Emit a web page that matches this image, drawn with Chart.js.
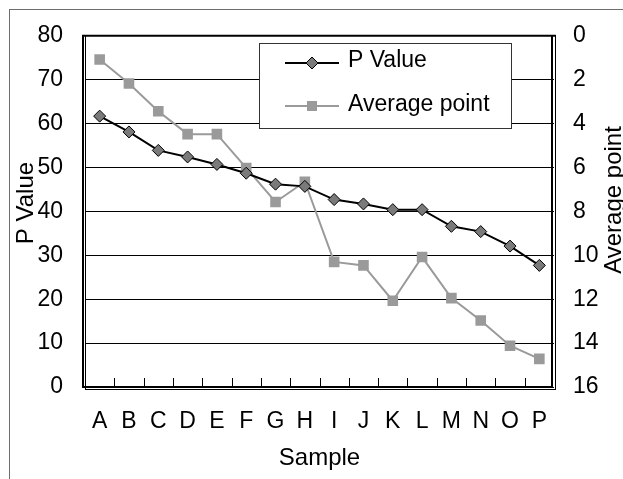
<!DOCTYPE html>
<html>
<head>
<meta charset="utf-8">
<script src="https://cdn.jsdelivr.net/npm/chart.js@4/dist/chart.umd.min.js"></script>
<style>
  html, body { margin: 0; padding: 0; background: #fff; }
  canvas { display: block; }
</style>
</head>
<body>
<canvas id="c" width="623" height="479"></canvas>
<script>
const categories = ['A','B','C','D','E','F','G','H','I','J','K','L','M','N','O','P'];
const pValue = [61.7, 58.1, 53.9, 52.4, 50.7, 48.7, 46.2, 45.7, 42.7, 41.7, 40.4, 40.4, 36.6, 35.4, 32.1, 27.7];
const averagePoint = [1.08, 2.17, 3.44, 4.48, 4.48, 6.02, 7.57, 6.65, 10.3, 10.46, 12.07, 10.08, 11.95, 12.97, 14.12, 14.72];
const seriesNames = ['P Value', 'Average point'];
const xTitle = 'Sample';
const leftTitle = 'P Value';
const rightTitle = 'Average point';

const FONT = "'Liberation Sans', Arial, sans-serif";
const DIAMOND_FILL = '#7a7a7a';
const SQUARE_FILL = '#9a9a9a';

function rotatedText(ctx, text, x, y) {
  ctx.save();
  ctx.fillStyle = '#000';
  ctx.font = '24px ' + FONT;
  ctx.textAlign = 'center';
  ctx.textBaseline = 'middle';
  ctx.translate(x, y);
  ctx.rotate(-Math.PI / 2);
  ctx.fillText(text, 0, 0);
  ctx.restore();
}

const decor = {
  id: 'decor',
  beforeDraw(chart) {
    const ctx = chart.ctx;
    ctx.save();
    ctx.fillStyle = '#fff';
    ctx.fillRect(0, 0, chart.width, chart.height);
    ctx.strokeStyle = '#6e6e6e';
    ctx.lineWidth = 1;
    ctx.strokeRect(9.5, 9.5, 800, 800);
    ctx.restore();
  },
  afterDatasetsDraw(chart) {
    const ctx = chart.ctx;
    const a = chart.chartArea;
    const xs = chart.scales.x;
    ctx.save();
    ctx.strokeStyle = '#000';
    ctx.lineWidth = 1;
    ctx.beginPath();
    for (let i = 1; i < categories.length; i++) {
      const x = Math.round((xs.getPixelForValue(i - 1) + xs.getPixelForValue(i)) / 2) + 0.5;
      ctx.moveTo(x, a.bottom - 9);
      ctx.lineTo(x, a.bottom);
    }
    ctx.stroke();
    ctx.lineWidth = 2;
    ctx.beginPath();
    ctx.moveTo(a.left - 3, a.top); ctx.lineTo(a.right + 1, a.top);
    ctx.moveTo(a.left - 2, a.top - 1); ctx.lineTo(a.left - 2, a.bottom + 1);
    ctx.moveTo(a.left - 3, a.bottom); ctx.lineTo(a.right - 1, a.bottom);
    ctx.moveTo(a.right - 2, a.top - 1); ctx.lineTo(a.right - 2, a.bottom + 1);
    ctx.stroke();
    ctx.lineWidth = 1;
    ctx.beginPath();
    ctx.moveTo(a.left + 0.5, a.top); ctx.lineTo(a.left + 0.5, a.bottom + 3);
    ctx.moveTo(a.left, a.bottom + 2.5); ctx.lineTo(a.right + 2, a.bottom + 2.5);
    ctx.moveTo(a.right + 1.5, a.top - 1); ctx.lineTo(a.right + 1.5, a.bottom + 3);
    ctx.stroke();
    ctx.restore();
  },
  afterDraw(chart) {
    const ctx = chart.ctx;
    rotatedText(ctx, leftTitle, 26, 203);
    rotatedText(ctx, rightTitle, 614, 200);

    ctx.save();
    const bx = 259.5, by = 43.5, bw = 252, bh = 85;
    ctx.fillStyle = '#fff';
    ctx.fillRect(bx, by, bw, bh);
    ctx.strokeStyle = '#333';
    ctx.lineWidth = 1;
    ctx.strokeRect(bx, by, bw, bh);
    const rows = [63, 106];
    ctx.strokeStyle = '#000';
    ctx.lineWidth = 2;
    ctx.beginPath(); ctx.moveTo(285, rows[0]); ctx.lineTo(339, rows[0]); ctx.stroke();
    ctx.fillStyle = DIAMOND_FILL;
    ctx.lineWidth = 1;
    ctx.beginPath();
    ctx.moveTo(312 - 6, rows[0]); ctx.lineTo(312, rows[0] - 6); ctx.lineTo(312 + 6, rows[0]); ctx.lineTo(312, rows[0] + 6); ctx.closePath();
    ctx.fill(); ctx.stroke();
    ctx.strokeStyle = SQUARE_FILL;
    ctx.lineWidth = 2;
    ctx.beginPath(); ctx.moveTo(285, rows[1]); ctx.lineTo(339, rows[1]); ctx.stroke();
    ctx.fillStyle = SQUARE_FILL;
    ctx.fillRect(307, rows[1] - 5, 10, 10);
    ctx.fillStyle = '#000';
    ctx.font = '23px ' + FONT;
    ctx.textAlign = 'left';
    ctx.textBaseline = 'middle';
    ctx.fillText(seriesNames[0], 348, rows[0] - 2);
    ctx.fillText(seriesNames[1], 348, rows[1] - 1);
    ctx.restore();
  }
};

new Chart(document.getElementById('c'), {
  type: 'line',
  data: {
    labels: categories,
    datasets: [
      {
        label: seriesNames[0],
        data: pValue,
        yAxisID: 'y',
        borderColor: '#000',
        borderWidth: 2,
        pointStyle: 'rectRot',
        pointRadius: 6,
        pointBackgroundColor: DIAMOND_FILL,
        pointBorderColor: '#000',
        pointBorderWidth: 1,
        tension: 0,
        order: 1
      },
      {
        label: seriesNames[1],
        data: averagePoint,
        yAxisID: 'y2',
        borderColor: SQUARE_FILL,
        borderWidth: 2,
        pointStyle: 'rect',
        pointRadius: 7.5,
        pointBackgroundColor: SQUARE_FILL,
        pointBorderColor: SQUARE_FILL,
        pointBorderWidth: 0,
        tension: 0,
        order: 2
      }
    ]
  },
  options: {
    responsive: false,
    devicePixelRatio: 1,
    animation: false,
    layout: { padding: { top: 30, left: 0, right: 0, bottom: 0 } },
    plugins: {
      legend: { display: false },
      tooltip: { enabled: false }
    },
    scales: {
      x: {
        type: 'category',
        offset: true,
        grid: { display: false, drawTicks: false },
        border: { display: false },
        ticks: { color: '#000', font: { family: FONT, size: 23 }, padding: 21, maxRotation: 0, autoSkip: false },
        title: { display: true, text: xTitle, color: '#000', font: { family: FONT, size: 24 }, padding: { top: 0, bottom: 6 } },
        afterFit(s) { s.height = 92; }
      },
      y: {
        position: 'left',
        min: 0, max: 80,
        ticks: { stepSize: 10, color: '#000', font: { family: FONT, size: 23 }, padding: 22 },
        grid: { color: '#000', lineWidth: 1, drawTicks: false },
        border: { display: false },
        afterFit(s) { s.width = 85; }
      },
      y2: {
        position: 'right',
        reverse: true,
        min: 0, max: 16,
        ticks: { stepSize: 2, color: '#000', font: { family: FONT, size: 23 }, padding: 19 },
        grid: { display: false, drawTicks: false },
        border: { display: false },
        afterFit(s) { s.width = 69; }
      }
    }
  },
  plugins: [decor]
});
</script>
</body>
</html>
